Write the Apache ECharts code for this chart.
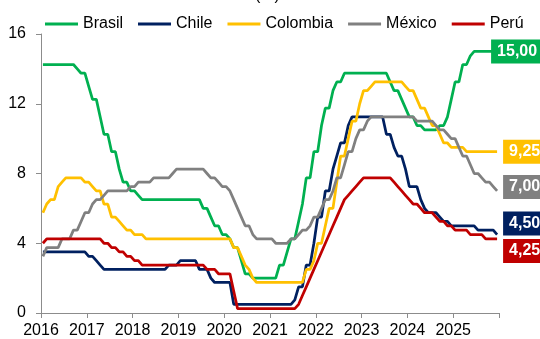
<!DOCTYPE html>
<html>
<head>
<meta charset="utf-8">
<script src="https://cdn.jsdelivr.net/npm/echarts@6/dist/echarts.min.js"></script>
<style>
  html, body { margin: 0; padding: 0; background: #ffffff; }
  #chart { width: 540px; height: 339px; }
</style>
</head>
<body>
<div id="chart"></div>
<script>
// Tasas de política monetaria (%), fin de cada mes, ene-2016 a dic-2025
const firstYear = 2016;
const lastYear = 2025;
const yTicks = [0, 4, 8, 12, 16];

const brasil = [
  14.25, 14.25, 14.25, 14.25, 14.25, 14.25, 14.25, 14.25, 14.25, 14.00, 13.75, 13.75,
  13.00, 12.25, 12.25, 11.25, 10.25, 10.25, 9.25, 9.25, 8.25, 7.50, 7.50, 7.00,
  7.00, 6.75, 6.50, 6.50, 6.50, 6.50, 6.50, 6.50, 6.50, 6.50, 6.50, 6.50,
  6.50, 6.50, 6.50, 6.50, 6.50, 6.50, 6.00, 6.00, 5.50, 5.00, 5.00, 4.50,
  4.50, 4.25, 3.75, 3.75, 3.00, 2.25, 2.25, 2.00, 2.00, 2.00, 2.00, 2.00,
  2.00, 2.00, 2.75, 2.75, 3.50, 4.25, 4.25, 5.25, 6.25, 7.75, 7.75, 9.25,
  9.25, 10.75, 11.75, 11.75, 12.75, 13.25, 13.25, 13.75, 13.75, 13.75, 13.75, 13.75,
  13.75, 13.75, 13.75, 13.75, 13.75, 13.75, 13.75, 13.25, 12.75, 12.75, 12.25, 11.75,
  11.25, 11.25, 10.75, 10.75, 10.50, 10.50, 10.50, 10.50, 10.75, 10.75, 11.25, 12.25,
  13.25, 13.25, 14.25, 14.25, 14.75, 15.00, 15.00, 15.00, 15.00, 15.00, 15.00, 15.00
];

const chile = [
  3.50, 3.50, 3.50, 3.50, 3.50, 3.50, 3.50, 3.50, 3.50, 3.50, 3.50, 3.50,
  3.25, 3.25, 3.00, 2.75, 2.50, 2.50, 2.50, 2.50, 2.50, 2.50, 2.50, 2.50,
  2.50, 2.50, 2.50, 2.50, 2.50, 2.50, 2.50, 2.50, 2.50, 2.75, 2.75, 2.75,
  3.00, 3.00, 3.00, 3.00, 3.00, 2.50, 2.50, 2.50, 2.00, 1.75, 1.75, 1.75,
  1.75, 1.75, 0.50, 0.50, 0.50, 0.50, 0.50, 0.50, 0.50, 0.50, 0.50, 0.50,
  0.50, 0.50, 0.50, 0.50, 0.50, 0.50, 0.75, 1.50, 1.50, 2.75, 2.75, 4.00,
  5.50, 5.50, 7.00, 7.00, 8.25, 9.00, 9.75, 9.75, 10.75, 11.25, 11.25, 11.25,
  11.25, 11.25, 11.25, 11.25, 11.25, 11.25, 10.25, 10.25, 9.50, 9.00, 9.00, 8.25,
  7.25, 7.25, 7.25, 6.50, 6.00, 5.75, 5.75, 5.75, 5.50, 5.25, 5.25, 5.00,
  5.00, 5.00, 5.00, 5.00, 5.00, 5.00, 4.75, 4.75, 4.75, 4.75, 4.75, 4.50
];

const colombia = [
  5.75, 6.25, 6.50, 6.50, 7.25, 7.50, 7.75, 7.75, 7.75, 7.75, 7.75, 7.50,
  7.50, 7.25, 7.00, 7.00, 6.25, 6.25, 5.50, 5.50, 5.25, 5.00, 4.75, 4.75,
  4.50, 4.50, 4.50, 4.25, 4.25, 4.25, 4.25, 4.25, 4.25, 4.25, 4.25, 4.25,
  4.25, 4.25, 4.25, 4.25, 4.25, 4.25, 4.25, 4.25, 4.25, 4.25, 4.25, 4.25,
  4.25, 4.25, 3.75, 3.75, 3.25, 2.75, 2.50, 2.00, 1.75, 1.75, 1.75, 1.75,
  1.75, 1.75, 1.75, 1.75, 1.75, 1.75, 1.75, 1.75, 1.75, 2.50, 2.50, 3.00,
  4.00, 4.00, 5.00, 6.00, 6.00, 7.50, 9.00, 9.00, 10.00, 11.00, 11.00, 12.00,
  12.75, 12.75, 13.00, 13.25, 13.25, 13.25, 13.25, 13.25, 13.25, 13.25, 13.25, 13.00,
  12.75, 12.75, 12.25, 11.75, 11.75, 11.25, 10.75, 10.75, 10.25, 9.75, 9.75, 9.50,
  9.50, 9.50, 9.50, 9.25, 9.25, 9.25, 9.25, 9.25, 9.25, 9.25, 9.25, 9.25
];

const mexico = [
  3.25, 3.75, 3.75, 3.75, 3.75, 4.25, 4.25, 4.25, 4.75, 4.75, 5.25, 5.75,
  5.75, 6.25, 6.50, 6.50, 6.75, 7.00, 7.00, 7.00, 7.00, 7.00, 7.00, 7.25,
  7.25, 7.50, 7.50, 7.50, 7.50, 7.75, 7.75, 7.75, 7.75, 7.75, 8.00, 8.25,
  8.25, 8.25, 8.25, 8.25, 8.25, 8.25, 8.25, 8.00, 7.75, 7.75, 7.50, 7.25,
  7.25, 7.00, 6.50, 6.00, 5.50, 5.00, 5.00, 4.50, 4.25, 4.25, 4.25, 4.25,
  4.25, 4.00, 4.00, 4.00, 4.00, 4.25, 4.25, 4.50, 4.75, 4.75, 5.00, 5.50,
  5.50, 6.00, 6.50, 6.50, 7.00, 7.75, 7.75, 8.50, 9.25, 9.25, 10.00, 10.50,
  10.50, 11.00, 11.25, 11.25, 11.25, 11.25, 11.25, 11.25, 11.25, 11.25, 11.25, 11.25,
  11.25, 11.25, 11.00, 11.00, 11.00, 11.00, 11.00, 10.75, 10.50, 10.50, 10.25, 10.00,
  10.00, 9.50, 9.00, 9.00, 8.50, 8.00, 8.00, 7.75, 7.50, 7.50, 7.25, 7.00
];

const peru = [
  4.00, 4.25, 4.25, 4.25, 4.25, 4.25, 4.25, 4.25, 4.25, 4.25, 4.25, 4.25,
  4.25, 4.25, 4.25, 4.25, 4.00, 4.00, 3.75, 3.75, 3.50, 3.50, 3.25, 3.25,
  3.00, 3.00, 2.75, 2.75, 2.75, 2.75, 2.75, 2.75, 2.75, 2.75, 2.75, 2.75,
  2.75, 2.75, 2.75, 2.75, 2.75, 2.75, 2.75, 2.50, 2.50, 2.50, 2.25, 2.25,
  2.25, 2.25, 1.25, 0.25, 0.25, 0.25, 0.25, 0.25, 0.25, 0.25, 0.25, 0.25,
  0.25, 0.25, 0.25, 0.25, 0.25, 0.25, 0.25, 0.50, 1.00, 1.50, 2.00, 2.50,
  3.00, 3.50, 4.00, 4.50, 5.00, 5.50, 6.00, 6.50, 6.75, 7.00, 7.25, 7.50,
  7.75, 7.75, 7.75, 7.75, 7.75, 7.75, 7.75, 7.75, 7.50, 7.25, 7.00, 6.75,
  6.50, 6.25, 6.25, 6.00, 5.75, 5.75, 5.75, 5.50, 5.25, 5.25, 5.00, 5.00,
  4.75, 4.75, 4.75, 4.75, 4.50, 4.50, 4.50, 4.50, 4.25, 4.25, 4.25, 4.25
];

const seriesNames = ['Brasil', 'Chile', 'Colombia', 'México', 'Perú'];
const seriesValues = [brasil, chile, colombia, mexico, peru];
const seriesColors = ['#00B050', '#002060', '#FFC000', '#808080', '#C00000'];
// shift of each end-of-line value box, so the boxes do not overlap
const endLabelShift = [[-12, 0], [0, -11], [0, 0], [0, -4], [0, 12]];

// each monthly observation sits in the middle of its month on a year scale
const monthPos = [];
for (let y = firstYear; y <= lastYear; y++) {
  for (let m = 0; m < 12; m++) monthPos.push(y + (m + 0.5) / 12);
}

const fontFamily = 'Arial, "Liberation Sans", sans-serif';
const fmt = v => v.toFixed(2).replace('.', ',');

const chart = echarts.init(document.getElementById('chart'), null, { renderer: 'canvas' });

chart.setOption({
  animation: false,
  backgroundColor: '#ffffff',
  textStyle: { fontFamily: fontFamily },
  graphic: [{
    type: 'text',
    left: 255,
    top: -12,
    style: { text: '(%)', font: '16px ' + fontFamily, fill: '#000000' }
  }],
  legend: {
    data: seriesNames,
    left: 40,
    top: 11,
    icon: 'rect',
    itemWidth: 33,
    itemHeight: 3,
    itemGap: 15,
    textStyle: { fontSize: 16, color: '#000000', fontFamily: fontFamily }
  },
  grid: { left: 41, right: 41, top: 34, bottom: 25, containLabel: false },
  xAxis: {
    type: 'value',
    min: firstYear,
    max: lastYear + 1,
    interval: 1,
    axisLine: { show: true, lineStyle: { color: '#8C8C8C', width: 1 } },
    axisTick: { show: true, length: 5, lineStyle: { color: '#8C8C8C' } },
    splitLine: { show: false },
    axisLabel: {
      margin: 10,
      fontSize: 16,
      color: '#000000',
      fontFamily: fontFamily,
      showMaxLabel: true,
      formatter: v => (v > lastYear ? '' : String(v))
    }
  },
  yAxis: {
    type: 'value',
    min: yTicks[0],
    max: yTicks[yTicks.length - 1],
    interval: yTicks[1] - yTicks[0],
    axisLine: { show: true, lineStyle: { color: '#8C8C8C', width: 1 } },
    axisTick: { show: true, length: 5, lineStyle: { color: '#8C8C8C' } },
    splitLine: { show: false },
    axisLabel: { margin: 15, fontSize: 16, color: '#000000', fontFamily: fontFamily }
  },
  series: seriesNames.map((name, k) => ({
    name: name,
    type: 'line',
    showSymbol: false,
    symbol: 'none',
    color: seriesColors[k],
    lineStyle: { width: 2.75, color: seriesColors[k] },
    data: seriesValues[k].map((v, i) => [monthPos[i], v]),
    endLabel: {
      show: true,
      distance: 6,
      offset: endLabelShift[k],
      formatter: p => fmt(p.value[1]),
      color: '#ffffff',
      fontWeight: 'bold',
      fontSize: 16,
      fontFamily: fontFamily,
      lineHeight: 16,
      backgroundColor: seriesColors[k],
      padding: [4, 6, 4, 6]
    }
  }))
});
</script>
</body>
</html>
